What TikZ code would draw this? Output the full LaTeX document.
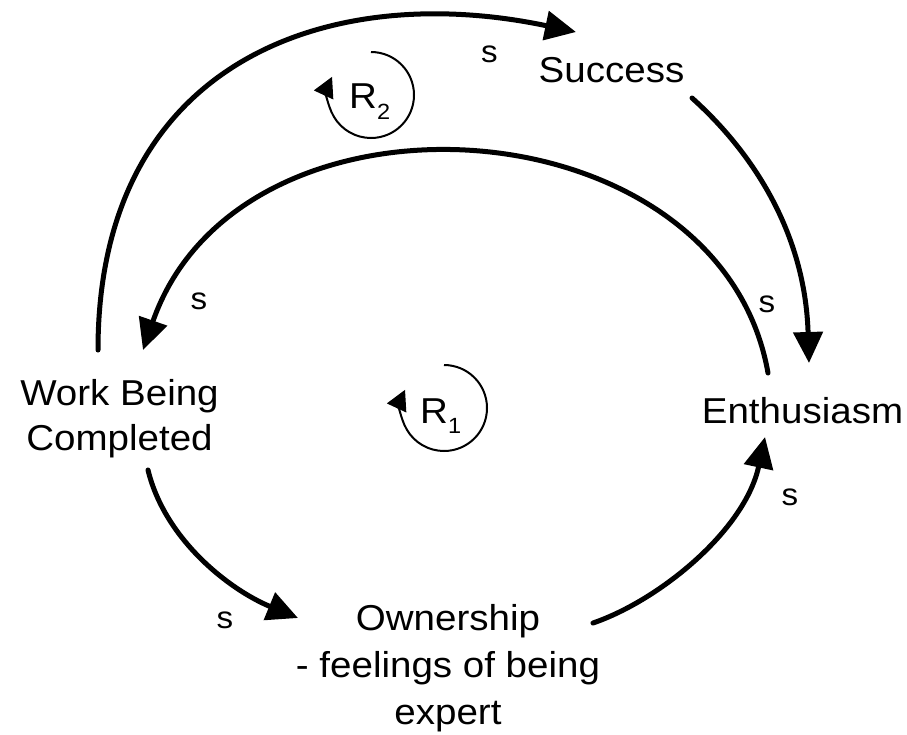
\documentclass[tikz,border=0pt]{standalone}
\usepackage{fontspec}
\setmainfont{Liberation Sans}[FakeStretch=1.07]
\usetikzlibrary{arrows.meta}

\begin{document}
\begin{tikzpicture}[x=1pt,y=-1pt,
  factor/.style={inner sep=0pt, align=center, font=\fontsize{36}{45}\selectfont},
  polarity/.style={inner sep=0pt, font=\fontsize{31}{31}\selectfont},
  link/.style={line width=5pt, line cap=round, -{Triangle[length=31pt,width=29pt]}},
  loopmark/.style={line width=2pt, -{Triangle[length=20pt,width=21pt]}},
  looptext/.style={inner sep=0pt, anchor=base west, font=\fontsize{36}{36}\selectfont}
]
\useasboundingbox (0,0) rectangle (907,734);

% variables of the causal loop
\node[factor] (success) at (611.5,70) {Success};
\node[factor] (enth) at (802.5,411) {Enthusiasm};
\node[factor, font=\fontsize{36}{45}\selectfont] (work) at (119.5,418.8) {Work Being\\Completed};
\node[factor, font=\fontsize{36}{47}\selectfont] (own) at (448,667.7) {Ownership\\- feelings of being\\expert};

% connector end points
\coordinate (work-up)   at (98,350);
\coordinate (succ-in)   at (576,32);
\coordinate (succ-out)  at (692,98);
\coordinate (enth-in1)  at (809,363);
\coordinate (enth-out)  at (768,373);
\coordinate (work-in)   at (143,350);
\coordinate (work-down) at (148,470);
\coordinate (own-in)    at (298,618);
\coordinate (own-out)   at (593,623);
\coordinate (enth-in2)  at (765,437);

% causal links
\draw[link] (work-up) .. controls (98,60) and (330,-20) .. (succ-in);
\draw[link] (succ-out) .. controls (750,150) and (805,230) .. (enth-in1);
\draw[link] (enth-out) .. controls (720,100) and (240,70) .. (work-in);
\draw[link] (work-down) .. controls (165,540) and (230,590) .. (own-in);
\draw[link] (own-out) .. controls (660,600) and (745,530) .. (enth-in2);

% polarity marks
\node[polarity] (s1) at (489.5,54.5) {s};
\node[polarity] (s2) at (767,304) {s};
\node[polarity] (s3) at (199,301) {s};
\node[polarity] (s4) at (225,620) {s};
\node[polarity] (s5) at (790,497) {s};

% reinforcing loop markers
\coordinate (r2c) at (371,95);
\coordinate (r1c) at (444,408);
\draw[loopmark] (r2c) ++(0,-43) arc[start angle=-90, end angle=205, radius=43];
\draw[loopmark] (r1c) ++(0,-43) arc[start angle=-90, end angle=205, radius=43];
\node[looptext] (r2) at (349,108) {R\raisebox{-11pt}{\fontsize{22}{22}\selectfont 2}};
\node[looptext] (r1) at (420,423) {R\raisebox{-10pt}{\fontsize{22}{22}\selectfont 1}};
\end{tikzpicture}
\end{document}
